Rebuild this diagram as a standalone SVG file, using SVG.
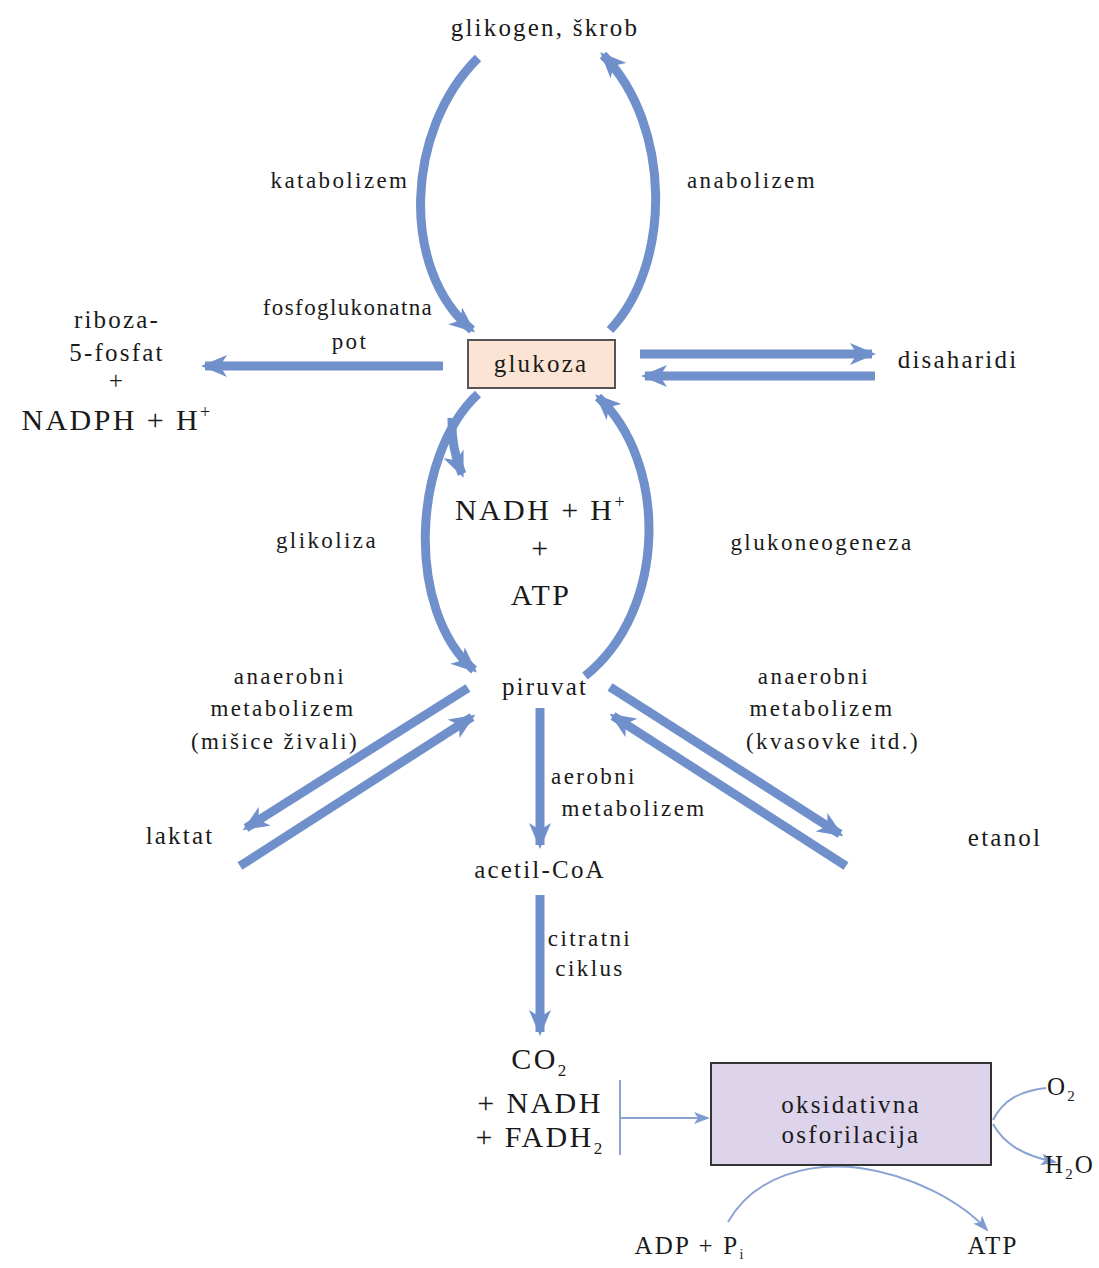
<svg xmlns="http://www.w3.org/2000/svg" width="1099" height="1268" viewBox="0 0 1099 1268">
<style>
text{font-family:"Liberation Serif","Times New Roman",serif;fill:#1a1a1a;text-anchor:middle}
.l{font-size:23px;letter-spacing:2.4px}
.m{font-size:25px;letter-spacing:2.2px}
.b{font-size:30px;letter-spacing:2.4px}
.thick{fill:none;stroke:#7090cc;stroke-width:9;marker-end:url(#ah)}
.thin{fill:none;stroke:#8aa4d2;stroke-width:2}
.thina{fill:none;stroke:#8aa4d2;stroke-width:2;marker-end:url(#sah)}
</style>
<defs>
<marker id="ah" markerUnits="userSpaceOnUse" viewBox="0 0 26 22" markerWidth="26" markerHeight="22" refX="22" refY="11" orient="auto">
<path d="M0,0 L26,11 L0,22 L7,11 z" fill="#7090cc"/>
</marker>
<marker id="sah" markerUnits="userSpaceOnUse" viewBox="0 0 16 12" markerWidth="16" markerHeight="12" refX="14" refY="6" orient="auto">
<path d="M0,0 L16,6 L0,12 L4,6 z" fill="#7f9bcf"/>
</marker>
</defs>
<rect width="1099" height="1268" fill="#fff"/>
<g id="connectors">
<path class="thick" d="M478,58 C405,130 400,270 472,330"/>
<path class="thick" d="M610,330 C672,265 672,125 603,55"/>
<path class="thick" d="M443,366 L205,366"/>
<path class="thick" d="M640,354 L872,354"/>
<path class="thick" d="M875,376 L645,376"/>
<path class="thick" d="M478,394 C412,455 405,610 474,670"/>
<path class="thick" d="M452,418 Q451,448 462,474"/>
<path class="thick" d="M585,676 C668,610 668,462 598,397"/>
<path class="thick" d="M468,688 L246,828"/>
<path class="thick" d="M240,866 L472,717"/>
<path class="thick" d="M610,687 L840,834"/>
<path class="thick" d="M846,866 L613,716"/>
<path class="thick" d="M540,708 L540,845"/>
<path class="thick" d="M540,895 L540,1032"/>
<path class="thin" d="M620,1080 L620,1155"/>
<path class="thina" d="M620,1118 L708,1118"/>
<path class="thin" d="M993,1120 C1003,1100 1020,1091 1046,1088"/>
<path class="thina" d="M993,1124 C1003,1142 1020,1155 1055,1162"/>
<path class="thina" d="M728,1222 C755,1175 810,1162 860,1168 C910,1175 960,1200 987,1230"/>
</g>
<g id="glikogen"><text class="m" x="545" y="36">glikogen, škrob</text></g>
<g id="katabolizem"><text class="l" x="340" y="188">katabolizem</text></g>
<g id="anabolizem"><text class="l" x="752" y="188">anabolizem</text></g>
<g id="glukoza">
<rect x="468" y="340" width="147" height="48" fill="#fbe4d4" stroke="#555" stroke-width="2"/>
<text class="m" x="541" y="372">glukoza</text>
</g>
<g id="fosfoglukonatna"><text class="l" x="348" y="315" style="letter-spacing:1.4px">fosfoglukonatna</text><text class="l" x="350" y="349">pot</text></g>
<g id="riboza">
<text class="m" x="117" y="328">riboza-</text>
<text class="m" x="117" y="361">5-fosfat</text>
<text class="m" x="117" y="389">+</text>
<text class="b" x="117" y="430">NADPH + H<tspan font-size="18" dy="-12">+</tspan></text>
</g>
<g id="disaharidi"><text class="m" x="958" y="368">disaharidi</text></g>
<g id="nadh">
<text class="b" x="541" y="520">NADH + H<tspan font-size="18" dy="-12">+</tspan></text>
<text class="b" x="541" y="558">+</text>
<text class="b" x="541" y="605">ATP</text>
</g>
<g id="glikoliza"><text class="l" x="327" y="548">glikoliza</text></g>
<g id="glukoneogeneza"><text class="l" x="822" y="550">glukoneogeneza</text></g>
<g id="piruvat"><text class="m" x="545" y="695">piruvat</text></g>
<g id="anaerobni-l">
<text class="l" x="290" y="684">anaerobni</text>
<text class="l" x="283" y="716">metabolizem</text>
<text class="l" x="275" y="749">(mišice živali)</text>
</g>
<g id="anaerobni-r">
<text class="l" x="814" y="684">anaerobni</text>
<text class="l" x="822" y="716">metabolizem</text>
<text class="l" x="833" y="749">(kvasovke itd.)</text>
</g>
<g id="laktat"><text class="m" x="180" y="844">laktat</text></g>
<g id="etanol"><text class="m" x="1005" y="846">etanol</text></g>
<g id="aerobni"><text class="l" x="594" y="784">aerobni</text><text class="l" x="634" y="816">metabolizem</text></g>
<g id="acetil"><text class="m" x="540" y="878">acetil-CoA</text></g>
<g id="citratni"><text class="l" x="590" y="946">citratni</text><text class="l" x="590" y="976">ciklus</text></g>
<g id="co2">
<text class="b" x="540" y="1069">CO<tspan font-size="17" dy="7">2</tspan></text>
<text class="b" x="540" y="1113">+ NADH</text>
<text class="b" x="540" y="1147">+ FADH<tspan font-size="17" dy="7">2</tspan></text>
</g>
<g id="oksidativna">
<rect x="711" y="1063" width="280" height="102" fill="#ddd3ea" stroke="#333" stroke-width="2"/>
<text class="m" x="851" y="1113">oksidativna</text>
<text class="m" x="851" y="1143">osforilacija</text>
</g>
<g id="o2"><text class="m" x="1062" y="1095">O<tspan font-size="15" dy="6">2</tspan></text></g>
<g id="h2o"><text class="m" x="1070" y="1173">H<tspan font-size="15" dy="6">2</tspan><tspan dy="-6">O</tspan></text></g>
<g id="adp"><text class="m" x="690" y="1254">ADP + P<tspan font-size="14" dy="5">i</tspan></text></g>
<g id="atp"><text class="m" x="993" y="1254">ATP</text></g>
</svg>
